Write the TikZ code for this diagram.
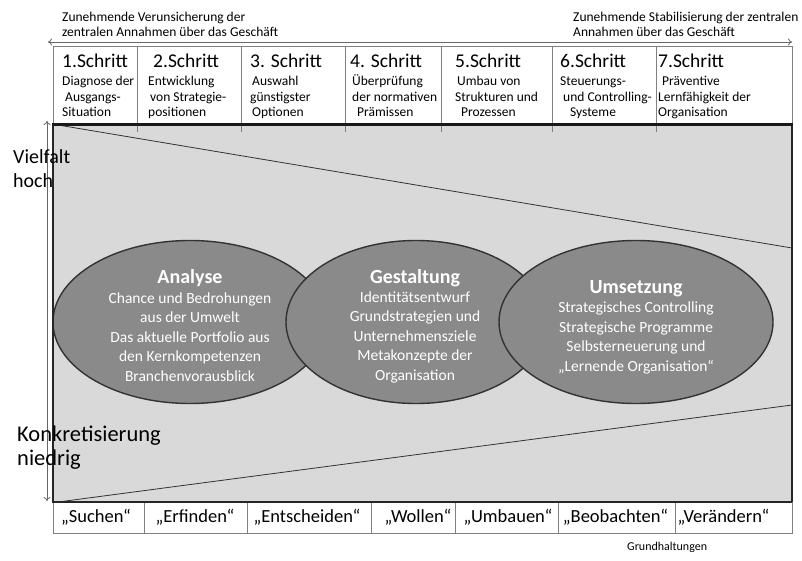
\documentclass[tikz,border=0pt]{standalone}
\usepackage{fontspec}
\setmainfont{Carlito}
\usetikzlibrary{shapes.geometric,arrows.meta,positioning,calc}

\begin{document}
\begin{tikzpicture}[x=1pt, y=-1pt,
  phase/.style={draw=black!80, line width=1.4pt, fill=black!46, ellipse, minimum height=163pt},
  phasetitle/.style={text=white, inner sep=0pt, font=\fontsize{20}{24}\selectfont\bfseries},
  phasetext/.style={text=white, inner sep=0pt, align=center, font=\fontsize{15.5}{19.5}\selectfont},
  head/.style={anchor=base west, inner sep=0pt, font=\fontsize{19.5}{22}\selectfont},
  sub/.style={anchor=base west, inner sep=0pt, font=\fontsize{13.5}{16}\selectfont},
  attitude/.style={inner sep=0pt, font=\fontsize{18.5}{20}\selectfont},
  side/.style={anchor=north west, inner sep=0pt, align=left, font=\fontsize{20}{24.5}\selectfont},
  note/.style={anchor=north west, inner sep=0pt, align=left, font=\fontsize{13.5}{15}\selectfont},
  axis/.style={draw=black!60, line width=0.8pt, {To[length=4pt,width=7pt]}-{To[length=4pt,width=7pt]}},
  cellline/.style={draw=black!50, line width=0.7pt}
]
\fill[white] (0,0) rectangle (802,561);
\useasboundingbox (0,0) rectangle (802,561);

% Kopfzeile
\draw[cellline] (53,46) rectangle (792,125);

% Feld
\fill[black!15] (53,125) rectangle (792,502);
\foreach \x in {137,241,345,441,552,656}
  \draw[cellline] (\x,46) -- (\x,132);
\draw[black!80, line width=0.8pt] (58,125) -- (792,248);
\draw[black!80, line width=0.8pt] (58,502) -- (792,405);

% Phasen
\node[phase, minimum width=274pt] (analyse) at (190,322) {};
\node[phase, minimum width=260pt] (gestaltung) at (416,322) {};
\node[phase, minimum width=274pt] (umsetzung) at (636,322) {};

\node[phasetitle] (analysetitle) at (190,278) {Analyse};
\node[phasetext] (analysetext) at (190,337) {Chance und Bedrohungen\\aus der Umwelt\\Das aktuelle Portfolio aus\\den Kernkompetenzen\\Branchenvorausblick};
\node[phasetitle] (gestaltungtitle) at (415,278) {Gestaltung};
\node[phasetext] (gestaltungtext) at (415,337) {Identitätsentwurf\\Grundstrategien und\\Unternehmensziele\\Metakonzepte der\\Organisation};
\node[phasetitle] (umsetzungtitle) at (636,289) {Umsetzung};
\node[phasetext] (umsetzungtext) at (636,338) {Strategisches Controlling\\Strategische Programme\\Selbsterneuerung und\\„Lernende Organisation“};

% Rahmen
\draw[black!85, line width=2pt] (53,125) rectangle (792,502);
\draw[black!90, line width=3pt] (52,125) -- (793,125);

% Schritte
\foreach \hx/\bx/\h/\la/\lb/\lc [count=\i] in {
  62/62/{1.Schritt}/{Diagnose der}/{\hspace*{3pt}Ausgangs-}/{Situation},
  153/148/{2.Schritt}/{Entwicklung}/{\hspace*{2pt}von Strategie-}/{positionen},
  250/250/{3. Schritt}/{\hspace*{2pt}Auswahl}/{günstigster}/{\hspace*{2pt}Optionen},
  350/352/{4. Schritt}/{Überprüfung}/{der normativen}/{\hspace*{5pt}Prämissen},
  455/455/{5.Schritt}/{\hspace*{2pt}Umbau von}/{Strukturen und}/{\hspace*{6pt}Prozessen},
  560/560/{6.Schritt}/{Steuerungs-}/{\hspace*{3pt}und Controlling-}/{\hspace*{10pt}Systeme},
  658/658/{7.Schritt}/{\hspace*{4pt}Präventive}/{Lernfähigkeit der}/{Organisation}}{
  \node[head] (step\i) at (\hx,68) {\h};
  \node[sub] (task\i-1) at (\bx,85.5) {\la};
  \node[sub] (task\i-2) at (\bx,101.3) {\lb};
  \node[sub] (task\i-3) at (\bx,117) {\lc};
}

% Grundhaltungen
\draw[cellline] (53,502) rectangle (792,533);
\foreach \x in {144,247,371,455,558,675}
  \draw[cellline] (\x,502) -- (\x,533);
\draw[black!85, line width=2pt] (53,502) -- (792,502);
\foreach \x/\w [count=\i] in {96/Suchen,195/Erfinden,307/Entscheiden,418/Wollen,508/Umbauen,615.5/Beobachten,723.5/Verändern}
  \node[attitude] (attitude\i) at (\x,517.5) {„\w“};
\node[anchor=base west, inner sep=0pt, font=\fontsize{12}{14}\selectfont] (attitudes) at (627,550) {Grundhaltungen};

% Achsen
\coordinate (topleft) at (48,42);
\coordinate (topright) at (792,42);
\coordinate (sidetop) at (47,121);
\coordinate (sidebottom) at (47,501);
\draw[axis] (topleft) -- (topright);
\draw[axis] (sidetop) -- (sidebottom);

\node[note] (unsure) at (62,12) {Zunehmende Verunsicherung der\\zentralen Annahmen über das Geschäft};
\node[note] (stable) at (573,12) {Zunehmende Stabilisierung der zentralen\\Annahmen über das Geschäft};
\node[side] (variety) at (13,149) {Vielfalt\\hoch};
\node[side, font=\fontsize{22.5}{24}\selectfont] (concrete) at (17,426) {Konkretisierung\\niedrig};
\end{tikzpicture}
\end{document}
